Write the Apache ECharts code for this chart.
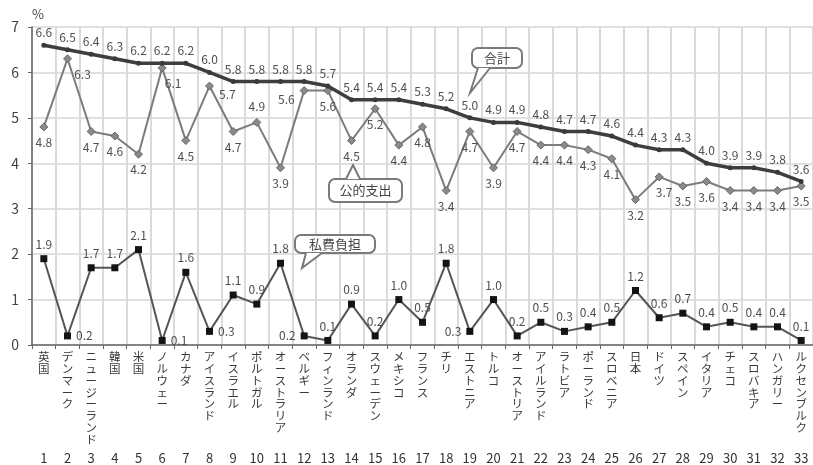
<!DOCTYPE html>
<html lang="ja">
<head>
<meta charset="utf-8">
<title>教育機関への支出の対GDP比</title>
<script src="https://cdn.jsdelivr.net/npm/echarts@6/dist/echarts.min.js"></script>
<style>
  html, body { margin: 0; padding: 0; background: #fff; }
  #chart { width: 813px; height: 465px; }
</style>
</head>
<body>
<div id="chart"></div>
<script>
// Countries in ranking order (by total)
const countries = [
  '英国', 'デンマーク', 'ニュージーランド', '韓国', '米国', 'ノルウェー', 'カナダ',
  'アイスランド', 'イスラエル', 'ポルトガル', 'オーストラリア', 'ベルギー', 'フィンランド',
  'オランダ', 'スウェーデン', 'メキシコ', 'フランス', 'チリ', 'エストニア', 'トルコ',
  'オーストリア', 'アイルランド', 'ラトビア', 'ポーランド', 'スロベニア', '日本', 'ドイツ',
  'スペイン', 'イタリア', 'チェコ', 'スロバキア', 'ハンガリー', 'ルクセンブルク'
];
const ranks = ['1','2','3','4','5','6','7','8','9','10','11','12','13','14','15','16','17',
  '18','19','20','21','22','23','24','25','26','27','28','29','30','31','32','33'];

// 合計 (%)
const totalValues = [6.6, 6.5, 6.4, 6.3, 6.2, 6.2, 6.2, 6.0, 5.8, 5.8, 5.8, 5.8, 5.7, 5.4, 5.4,
  5.4, 5.3, 5.2, 5.0, 4.9, 4.9, 4.8, 4.7, 4.7, 4.6, 4.4, 4.3, 4.3, 4.0, 3.9, 3.9, 3.8, 3.6];
// 公的支出 (%)
const publicValues = [4.8, 6.3, 4.7, 4.6, 4.2, 6.1, 4.5, 5.7, 4.7, 4.9, 3.9, 5.6, 5.6, 4.5, 5.2,
  4.4, 4.8, 3.4, 4.7, 3.9, 4.7, 4.4, 4.4, 4.3, 4.1, 3.2, 3.7, 3.5, 3.6, 3.4, 3.4, 3.4, 3.5];
// 私費負担 (%)
const privateValues = [1.9, 0.2, 1.7, 1.7, 2.1, 0.1, 1.6, 0.3, 1.1, 0.9, 1.8, 0.2, 0.1, 0.9, 0.2,
  1.0, 0.5, 1.8, 0.3, 1.0, 0.2, 0.5, 0.3, 0.4, 0.5, 1.2, 0.6, 0.7, 0.4, 0.5, 0.4, 0.4, 0.1];

const yTicks = [0, 1, 2, 3, 4, 5, 6, 7];

// Label placement overrides (index -> label options)
const publicLabelAt = {
  1: { position: 'bottom', offset: [15, 0] },
  5: { position: 'bottom', offset: [11, 0] },
  7: { position: 'right', offset: [0, 8] },
  9: { position: 'top' },
  11: { position: 'left', offset: [0, 9] },
  26: { position: 'bottom', offset: [5, 0] }
};
const privateLabelAt = {
  1: { position: 'right' },
  5: { position: 'right' },
  7: { position: 'right' },
  11: { position: 'left' },
  18: { position: 'left' }
};

function withLabels(values, overrides) {
  return values.map((v, i) => overrides[i] ? { value: v, label: overrides[i] } : v);
}

const FONT = '"Noto Sans CJK JP", "Noto Sans", sans-serif';
const labelStyle = { show: true, color: '#4f4f4f', fontSize: 12, fontFamily: FONT,
  formatter: p => p.value.toFixed(1) };

// Speech-bubble annotation: box + wedge pointing to tip
function bubble(x, y, w, h, text, base1, base2, tip) {
  const stroke = '#7a7a7a';
  return {
    type: 'group',
    z: 100,
    children: [
      { type: 'rect', z: 100, shape: { x: x, y: y, width: w, height: h, r: 6 },
        style: { fill: '#fff', stroke: stroke, lineWidth: 2 } },
      { type: 'polygon', z: 101, shape: { points: [base1, tip, base2] },
        style: { fill: '#fff', stroke: null } },
      { type: 'polyline', z: 102, shape: { points: [base1, tip, base2] },
        style: { fill: null, stroke: stroke, lineWidth: 2 } },
      { type: 'text', z: 103, x: x + w / 2, y: y + h / 2,
        style: { text: text, fill: '#444', font: '13px ' + FONT,
          align: 'center', verticalAlign: 'middle' } }
    ]
  };
}

const chart = echarts.init(document.getElementById('chart'), null, { renderer: 'canvas' });

chart.setOption({
  backgroundColor: '#fff',
  animation: false,
  textStyle: { fontFamily: FONT },
  grid: { left: 32, top: 27, width: 785, height: 318, containLabel: false },
  xAxis: [
    {
      type: 'category',
      data: countries,
      boundaryGap: true,
      axisLine: { lineStyle: { color: '#666', width: 1.5 } },
      axisTick: { show: true, length: 4, lineStyle: { color: '#666' } },
      splitLine: { show: true, lineStyle: { color: '#dadada', width: 2 } },
      axisLabel: {
        interval: 0, margin: 6, color: '#3a3a3a', fontSize: 11.5, lineHeight: 11.8,
        fontFamily: FONT, verticalAlign: 'top',
        formatter: name => Array.from(name).join('\n')
      }
    },
    {
      type: 'category',
      data: ranks,
      position: 'bottom',
      offset: 101,
      boundaryGap: true,
      axisLine: { show: false },
      axisTick: { show: false },
      splitLine: { show: false },
      axisLabel: { interval: 0, margin: 6, color: '#333', fontSize: 13, fontFamily: FONT }
    }
  ],
  yAxis: {
    type: 'value',
    min: yTicks[0],
    max: yTicks[yTicks.length - 1],
    interval: 1,
    name: '%',
    nameLocation: 'end',
    nameGap: 6,
    nameTextStyle: { color: '#444', fontSize: 13, align: 'left', fontFamily: FONT },
    axisLine: { show: true, lineStyle: { color: '#666', width: 1.5 } },
    axisTick: { show: true, length: 4, lineStyle: { color: '#666' } },
    splitLine: { show: true, lineStyle: { color: '#d6d6d6', width: 1.5 } },
    axisLabel: { color: '#444', fontSize: 14, margin: 13, fontFamily: FONT }
  },
  series: [
    {
      name: '公的支出',
      type: 'line',
      data: withLabels(publicValues, publicLabelAt),
      symbol: 'diamond',
      symbolSize: 8,
      itemStyle: { color: '#8a8a8a', borderColor: '#666', borderWidth: 1 },
      lineStyle: { color: '#7c7c7c', width: 2 },
      label: Object.assign({ position: 'bottom' }, labelStyle),
      z: 2
    },
    {
      name: '私費負担',
      type: 'line',
      data: withLabels(privateValues, privateLabelAt),
      symbol: 'rect',
      symbolSize: 7,
      itemStyle: { color: '#141414' },
      lineStyle: { color: '#555', width: 2 },
      label: Object.assign({ position: 'top' }, labelStyle),
      z: 2
    },
    {
      name: '合計',
      type: 'line',
      data: totalValues,
      symbol: 'circle',
      symbolSize: 5,
      itemStyle: { color: '#3a3a3a' },
      lineStyle: { color: '#3e3e3e', width: 3.5 },
      label: Object.assign({ position: 'top', distance: 4 }, labelStyle),
      z: 3
    }
  ],
  graphic: [
    bubble(472, 48, 50, 20, '合計', [478, 68], [490, 68], [470, 93]),
    bubble(329, 179, 73, 23, '公的支出', [346, 179], [360, 179], [353, 165]),
    bubble(295, 235, 80, 18, '私費負担', [306, 253], [322, 253], [302, 268])
  ]
});
</script>
</body>
</html>
